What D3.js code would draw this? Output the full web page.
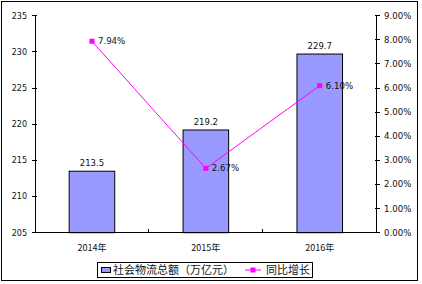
<!DOCTYPE html>
<html><head><meta charset="utf-8">
<script src="https://cdn.jsdelivr.net/npm/d3@7/dist/d3.min.js"></script>
<style>
html,body{margin:0;padding:0;background:#fff;}
svg{display:block;}
text{font-family:"DejaVu Sans","Liberation Sans",sans-serif;fill:#111;}
.cjk{font-family:"Noto Sans CJK SC","Noto Sans",sans-serif;}
</style></head>
<body>
<script>
const categories = ["2014年", "2015年", "2016年"];
const totals = [213.5, 219.2, 229.7];
const growth = [0.0794, 0.0267, 0.0610];
const leftTicks = [205, 210, 215, 220, 225, 230, 235];
const rightTicks = [0, 0.01, 0.02, 0.03, 0.04, 0.05, 0.06, 0.07, 0.08, 0.09];
const seriesNames = ["社会物流总额（万亿元）", "同比增长"];

const W = 422, H = 284;
const svg = d3.select("body").append("svg").attr("width", W).attr("height", H);

svg.append("rect").attr("x", 1.5).attr("y", 1.5).attr("width", 416).attr("height", 279)
  .attr("fill", "#fff").attr("stroke", "#000").attr("stroke-width", 1);

const xL = 35, xR = 376.7, yT = 15.7, yB = 232.7;
const x = d3.scaleBand().domain(categories).range([xL, xR]).padding(0);
const yl = d3.scaleLinear().domain([205, 235]).range([yB, yT]);
const yr = d3.scaleLinear().domain([0, 0.09]).range([yB, yT]);

// bars
const bw = x.bandwidth() * 0.4;
svg.selectAll(".bar").data(categories).enter().append("rect")
  .attr("x", (d) => x(d) + x.bandwidth() / 2 - bw / 2)
  .attr("y", (d, i) => yl(totals[i]))
  .attr("width", bw)
  .attr("height", (d, i) => yB - yl(totals[i]))
  .attr("fill", "#9999FF").attr("stroke", "#000").attr("stroke-width", 1);

// axes lines
const g = svg.append("g").attr("stroke", "#000").attr("stroke-width", 1).attr("shape-rendering", "crispEdges");
g.append("line").attr("x1", xL).attr("x2", xL).attr("y1", yT).attr("y2", yB);
g.append("line").attr("x1", xR).attr("x2", xR).attr("y1", yT).attr("y2", yB);
g.append("line").attr("x1", xL).attr("x2", xR).attr("y1", yB).attr("y2", yB);
leftTicks.forEach(t => g.append("line").attr("x1", xL - 3).attr("x2", xL + 2).attr("y1", yl(t)).attr("y2", yl(t)));
rightTicks.forEach(t => g.append("line").attr("x1", xR - 2).attr("x2", xR + 3).attr("y1", yr(t)).attr("y2", yr(t)));
categories.forEach(c => g.append("line").attr("x1", x(c)).attr("x2", x(c)).attr("y1", yB - 4).attr("y2", yB));

// tick labels
svg.selectAll(".lt").data(leftTicks).enter().append("text")
  .attr("x", 27).attr("y", d => yl(d)).attr("dy", "0.35em").attr("text-anchor", "end")
  .attr("font-size", 8).text(d => d);
const pf = d3.format(".2%");
svg.selectAll(".rt").data(rightTicks).enter().append("text")
  .attr("x", 384).attr("y", d => yr(d)).attr("dy", "0.35em").attr("text-anchor", "start")
  .attr("font-size", 8.6).text(d => pf(d));
svg.selectAll(".ct").data(categories).enter().append("text")
  .attr("class", "cjk")
  .attr("x", d => x(d) + x.bandwidth() / 2).attr("y", 247.5).attr("dy", "0.35em").attr("text-anchor", "middle")
  .attr("font-size", 9).text(d => d);

// bar labels
svg.selectAll(".bl").data(categories).enter().append("text")
  .attr("x", d => x(d) + x.bandwidth() / 2).attr("y", (d, i) => yl(totals[i]) - 8).attr("dy", "0.35em")
  .attr("text-anchor", "middle").attr("font-size", 8.5).text((d, i) => d3.format(".1f")(totals[i]));

// line
const cx = d => x(d) + x.bandwidth() / 2;
const line = d3.line().x((d, i) => cx(categories[i])).y(d => yr(d));
svg.append("path").datum(growth).attr("d", line).attr("fill", "none").attr("stroke", "#FF00FF").attr("stroke-width", 1);
svg.selectAll(".pt").data(growth).enter().append("rect")
  .attr("x", (d, i) => cx(categories[i]) - 2.5).attr("y", d => yr(d) - 2.5)
  .attr("width", 5).attr("height", 5).attr("fill", "#FF00FF");
svg.selectAll(".pl").data(growth).enter().append("text")
  .attr("x", (d, i) => cx(categories[i]) + 6).attr("y", d => yr(d)).attr("dy", "0.35em")
  .attr("font-size", 8.6).text(d => pf(d));

// legend
svg.append("rect").attr("x", 97.5).attr("y", 262.5).attr("width", 215).attr("height", 15)
  .attr("fill", "#fff").attr("stroke", "#000").attr("stroke-width", 1);
svg.append("rect").attr("x", 101.5).attr("y", 267.5).attr("width", 9).attr("height", 5)
  .attr("fill", "#9999FF").attr("stroke", "#000").attr("stroke-width", 1);
svg.append("text").attr("class", "cjk").attr("x", 113).attr("y", 270).attr("dy", "0.35em")
  .attr("font-size", 11).text(seriesNames[0]);
svg.append("line").attr("x1", 245).attr("x2", 261).attr("y1", 270).attr("y2", 270)
  .attr("stroke", "#FF00FF").attr("stroke-width", 1);
svg.append("rect").attr("x", 250.5).attr("y", 267.5).attr("width", 5).attr("height", 5).attr("fill", "#FF00FF");
svg.append("text").attr("class", "cjk").attr("x", 266).attr("y", 270).attr("dy", "0.35em")
  .attr("font-size", 11).text(seriesNames[1]);
</script>
</body></html>
